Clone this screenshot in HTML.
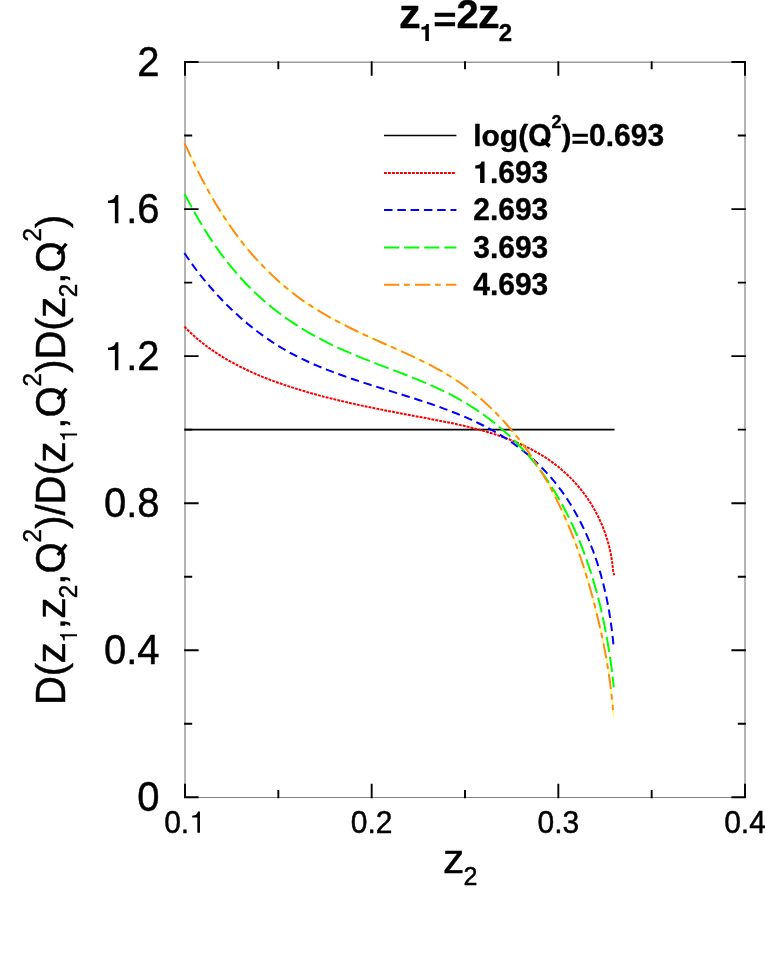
<!DOCTYPE html>
<html><head><meta charset="utf-8"><title>chart</title>
<style>html,body{margin:0;padding:0;background:#fff;}body{width:765px;height:980px;position:relative;overflow:hidden;font-family:"Liberation Sans",sans-serif;}</style></head>
<body>
<svg width="765" height="980" viewBox="0 0 765 980" style="position:absolute;left:0;top:0;font-kerning:none;will-change:transform">
<rect width="765" height="980" fill="#ffffff"/>
<path d="M185.0,62.25 V797.4 M745.0,62.25 V797.4 M184.25,62.25 H745.75" fill="none" stroke="#9c9c9c" stroke-width="1.5"/>
<path d="M184.25,797.4 H745.75" fill="none" stroke="#828282" stroke-width="1.05"/>
<path d="M185.00,61.15 v14.50 M185.00,798.20 v-14.50 M371.67,61.15 v14.50 M371.67,798.20 v-14.50 M558.33,61.15 v14.50 M558.33,798.20 v-14.50 M745.00,61.15 v14.50 M745.00,798.20 v-14.50 M278.33,61.15 v8.10 M278.33,798.20 v-8.10 M465.00,61.15 v8.10 M465.00,798.20 v-8.10 M651.67,61.15 v8.10 M651.67,798.20 v-8.10 M184.10,797.30 h14.50 M745.90,797.30 h-14.50 M184.10,650.25 h14.50 M745.90,650.25 h-14.50 M184.10,503.20 h14.50 M745.90,503.20 h-14.50 M184.10,356.15 h14.50 M745.90,356.15 h-14.50 M184.10,209.10 h14.50 M745.90,209.10 h-14.50 M184.10,62.05 h14.50 M745.90,62.05 h-14.50 M184.10,723.77 h8.10 M745.90,723.77 h-8.10 M184.10,576.72 h8.10 M745.90,576.72 h-8.10 M184.10,429.67 h8.10 M745.90,429.67 h-8.10 M184.10,282.62 h8.10 M745.90,282.62 h-8.10 M184.10,135.57 h8.10 M745.90,135.57 h-8.10" stroke="#000" stroke-width="1.9" fill="none"/>
<path d="M185.0,429.7 H614.5" stroke="#000" stroke-width="1.7" fill="none"/>
<path d="M184.4,326.6 L187.7,330.1 L191.3,333.5 L195.0,336.8 L198.7,340.0 L202.5,343.0 L206.3,346.0 L210.2,348.8 L214.2,351.6 L218.3,354.3 L222.4,356.8 L226.5,359.3 L230.7,361.7 L235.0,364.0 L239.3,366.3 L243.7,368.4 L248.0,370.5 L252.5,372.6 L256.9,374.5 L261.4,376.4 L266.0,378.2 L270.5,380.0 L275.1,381.7 L279.7,383.3 L284.3,384.9 L288.9,386.4 L293.6,387.9 L298.2,389.4 L302.9,390.8 L307.6,392.2 L312.2,393.5 L316.9,394.8 L321.6,396.1 L326.3,397.3 L331.0,398.5 L335.7,399.6 L340.5,400.8 L345.2,401.9 L349.9,403.0 L354.7,404.0 L359.4,405.1 L364.2,406.1 L368.9,407.1 L373.7,408.1 L378.5,409.0 L383.2,410.0 L388.0,410.9 L392.8,411.8 L397.6,412.8 L402.3,413.7 L407.1,414.6 L411.9,415.5 L416.7,416.4 L421.5,417.3 L426.3,418.1 L431.1,419.1 L435.8,420.0 L440.6,420.9 L445.4,421.9 L450.2,422.8 L455.0,423.8 L459.7,424.9 L464.5,426.0 L469.2,427.1 L473.9,428.3 L478.6,429.5 L483.3,430.8 L488.0,432.2 L492.7,433.6 L497.3,435.1 L502.0,436.7 L506.6,438.4 L511.1,440.1 L515.6,442.0 L520.1,443.9 L524.5,446.0 L528.9,448.1 L533.2,450.3 L537.5,452.7 L541.6,455.1 L545.7,457.7 L549.7,460.4 L553.6,463.2 L557.5,466.2 L561.2,469.2 L564.8,472.4 L568.3,475.7 L571.8,479.1 L575.1,482.7 L578.2,486.3 L581.3,490.0 L584.3,493.9 L587.1,497.8 L589.8,501.9 L592.4,506.0 L594.8,510.2 L597.1,514.5 L599.3,518.9 L601.3,523.3 L603.1,527.8 L604.9,532.4 L606.4,537.0 L607.8,541.7 L609.1,546.4 L610.2,551.2 L611.2,556.0 L612.0,560.9 L612.6,565.8 L613.1,570.7 L614.2,575.3" stroke="#ff0000" stroke-width="2" stroke-dasharray="2.9 1.1" fill="none"/>
<path d="M184.4,253.0 L187.6,257.7 L190.8,262.3 L194.1,266.9 L197.5,271.4 L201.0,275.9 L204.6,280.3 L208.2,284.7 L212.0,289.0 L215.8,293.3 L219.7,297.5 L223.6,301.7 L227.7,305.7 L231.8,309.7 L236.0,313.6 L240.3,317.5 L244.6,321.2 L249.0,324.9 L253.5,328.5 L258.0,332.0 L262.6,335.4 L267.3,338.7 L272.0,341.8 L276.8,344.9 L281.6,347.9 L286.5,350.7 L291.5,353.5 L296.5,356.1 L301.5,358.6 L306.6,361.0 L311.7,363.4 L316.9,365.6 L322.1,367.8 L327.4,369.9 L332.7,371.9 L338.0,373.9 L343.3,375.8 L348.7,377.7 L354.1,379.5 L359.5,381.3 L364.9,383.1 L370.3,384.8 L375.8,386.5 L381.3,388.2 L386.7,389.9 L392.2,391.6 L397.7,393.3 L403.1,395.0 L408.6,396.7 L414.1,398.4 L419.5,400.2 L425.0,402.0 L430.4,403.8 L435.8,405.7 L441.2,407.6 L446.6,409.6 L452.0,411.7 L457.3,413.8 L462.6,416.0 L467.8,418.2 L473.0,420.6 L478.1,423.0 L483.2,425.5 L488.3,428.1 L493.3,430.9 L498.2,433.7 L503.0,436.6 L507.8,439.7 L512.4,442.8 L517.0,446.1 L521.5,449.5 L525.9,453.1 L530.3,456.7 L534.5,460.5 L538.6,464.5 L542.6,468.5 L546.5,472.6 L550.3,476.8 L554.0,481.2 L557.5,485.6 L561.0,490.2 L564.3,494.8 L567.5,499.5 L570.5,504.3 L573.5,509.2 L576.3,514.2 L579.0,519.2 L581.6,524.3 L584.1,529.4 L586.5,534.6 L588.8,539.9 L590.9,545.2 L593.0,550.6 L594.9,556.0 L596.8,561.4 L598.5,566.9 L600.2,572.4 L601.7,577.9 L603.2,583.4 L604.5,589.0 L605.8,594.5 L607.0,600.1 L608.1,605.7 L609.1,611.3 L610.0,616.9 L610.8,622.5 L611.6,628.1 L612.3,633.6 L612.9,639.2 L613.5,645.0" stroke="#0000ff" stroke-width="2" stroke-dasharray="8.5 4.8" fill="none"/>
<path d="M184.4,194.1 L187.6,199.5 L190.6,205.2 L193.6,210.7 L196.7,216.3 L199.9,221.8 L203.2,227.3 L206.6,232.7 L210.1,238.1 L213.6,243.4 L217.3,248.6 L221.0,253.8 L224.9,258.9 L228.8,264.0 L232.9,268.9 L237.0,273.8 L241.2,278.5 L245.6,283.2 L250.0,287.7 L254.6,292.2 L259.2,296.5 L263.9,300.7 L268.8,304.8 L273.7,308.9 L278.7,312.7 L283.8,316.5 L289.0,320.2 L294.3,323.7 L299.6,327.2 L305.0,330.5 L310.5,333.7 L316.1,336.8 L321.7,339.7 L327.3,342.6 L333.1,345.4 L338.8,348.1 L344.6,350.7 L350.5,353.2 L356.4,355.7 L362.3,358.1 L368.2,360.4 L374.2,362.8 L380.1,365.1 L386.1,367.4 L392.1,369.7 L398.1,371.9 L404.1,374.2 L410.0,376.6 L415.9,378.9 L421.8,381.4 L427.7,383.8 L433.5,386.4 L439.3,389.1 L445.0,391.8 L450.7,394.7 L456.3,397.7 L461.8,400.8 L467.3,404.0 L472.7,407.4 L478.0,410.9 L483.2,414.5 L488.3,418.2 L493.4,422.1 L498.3,426.1 L503.1,430.2 L507.9,434.4 L512.5,438.7 L517.0,443.2 L521.4,447.7 L525.7,452.4 L529.9,457.2 L534.0,462.1 L537.9,467.1 L541.7,472.2 L545.4,477.4 L549.0,482.7 L552.4,488.1 L555.8,493.5 L559.0,499.0 L562.1,504.6 L565.1,510.2 L568.1,515.9 L570.9,521.7 L573.6,527.5 L576.2,533.3 L578.7,539.1 L581.1,545.0 L583.4,551.0 L585.6,557.0 L587.7,563.0 L589.7,569.0 L591.7,575.1 L593.5,581.2 L595.3,587.3 L597.0,593.4 L598.6,599.6 L600.2,605.8 L601.6,612.0 L603.0,618.2 L604.3,624.4 L605.5,630.7 L606.7,636.9 L607.8,643.2 L608.8,649.5 L609.8,655.8 L610.7,662.0 L611.6,668.3 L612.4,674.6 L613.1,680.9 L613.8,687.3" stroke="#00ff00" stroke-width="2" stroke-dasharray="15.2 4.9" fill="none"/>
<path d="M184.4,143.2 L187.5,149.4 L190.3,155.6 L193.3,161.8 L196.3,167.9 L199.4,174.1 L202.5,180.2 L205.8,186.2 L209.1,192.3 L212.5,198.2 L216.0,204.2 L219.6,210.1 L223.3,215.9 L227.1,221.6 L231.0,227.3 L235.0,232.9 L239.1,238.4 L243.3,243.9 L247.7,249.2 L252.2,254.5 L256.8,259.6 L261.5,264.7 L266.3,269.6 L271.2,274.4 L276.2,279.1 L281.3,283.7 L286.6,288.1 L291.9,292.4 L297.4,296.6 L302.9,300.6 L308.5,304.4 L314.3,308.1 L320.1,311.7 L326.0,315.1 L331.9,318.5 L338.0,321.7 L344.1,324.9 L350.2,328.0 L356.4,331.0 L362.6,333.9 L368.9,336.8 L375.2,339.7 L381.5,342.5 L387.9,345.3 L394.2,348.1 L400.6,350.9 L406.9,353.8 L413.2,356.7 L419.4,359.7 L425.6,362.7 L431.8,365.9 L437.8,369.1 L443.8,372.5 L449.7,376.0 L455.4,379.7 L461.1,383.5 L466.6,387.5 L472.0,391.6 L477.3,395.9 L482.5,400.3 L487.6,404.9 L492.5,409.6 L497.3,414.4 L502.1,419.4 L506.7,424.5 L511.1,429.7 L515.5,435.0 L519.8,440.3 L523.9,445.8 L528.0,451.4 L531.9,457.1 L535.7,462.9 L539.4,468.7 L543.0,474.6 L546.5,480.6 L549.9,486.6 L553.1,492.7 L556.3,498.9 L559.3,505.1 L562.3,511.3 L565.1,517.6 L567.8,523.9 L570.5,530.3 L573.0,536.6 L575.4,543.1 L577.8,549.5 L580.0,556.0 L582.2,562.5 L584.3,569.0 L586.3,575.6 L588.3,582.1 L590.2,588.7 L592.0,595.3 L593.8,602.0 L595.5,608.6 L597.1,615.3 L598.8,622.0 L600.3,628.7 L601.8,635.4 L603.2,642.2 L604.5,648.9 L605.8,655.7 L607.0,662.5 L608.1,669.2 L609.1,676.0 L610.1,682.9 L610.9,689.7 L611.7,696.5 L612.4,703.4 L613.0,710.2" stroke="#ffff30" stroke-width="1" stroke-dasharray="0.3 14.6 5.5 5.1 5.5 0" fill="none"/>
<path d="M613.0,710.2 L613.8,716.8" stroke="#ffff30" stroke-width="1" fill="none"/>
<path d="M184.4,143.2 L187.5,149.4 L190.3,155.6 L193.3,161.8 L196.3,167.9 L199.4,174.1 L202.5,180.2 L205.8,186.2 L209.1,192.3 L212.5,198.2 L216.0,204.2 L219.6,210.1 L223.3,215.9 L227.1,221.6 L231.0,227.3 L235.0,232.9 L239.1,238.4 L243.3,243.9 L247.7,249.2 L252.2,254.5 L256.8,259.6 L261.5,264.7 L266.3,269.6 L271.2,274.4 L276.2,279.1 L281.3,283.7 L286.6,288.1 L291.9,292.4 L297.4,296.6 L302.9,300.6 L308.5,304.4 L314.3,308.1 L320.1,311.7 L326.0,315.1 L331.9,318.5 L338.0,321.7 L344.1,324.9 L350.2,328.0 L356.4,331.0 L362.6,333.9 L368.9,336.8 L375.2,339.7 L381.5,342.5 L387.9,345.3 L394.2,348.1 L400.6,350.9 L406.9,353.8 L413.2,356.7 L419.4,359.7 L425.6,362.7 L431.8,365.9 L437.8,369.1 L443.8,372.5 L449.7,376.0 L455.4,379.7 L461.1,383.5 L466.6,387.5 L472.0,391.6 L477.3,395.9 L482.5,400.3 L487.6,404.9 L492.5,409.6 L497.3,414.4 L502.1,419.4 L506.7,424.5 L511.1,429.7 L515.5,435.0 L519.8,440.3 L523.9,445.8 L528.0,451.4 L531.9,457.1 L535.7,462.9 L539.4,468.7 L543.0,474.6 L546.5,480.6 L549.9,486.6 L553.1,492.7 L556.3,498.9 L559.3,505.1 L562.3,511.3 L565.1,517.6 L567.8,523.9 L570.5,530.3 L573.0,536.6 L575.4,543.1 L577.8,549.5 L580.0,556.0 L582.2,562.5 L584.3,569.0 L586.3,575.6 L588.3,582.1 L590.2,588.7 L592.0,595.3 L593.8,602.0 L595.5,608.6 L597.1,615.3 L598.8,622.0 L600.3,628.7 L601.8,635.4 L603.2,642.2 L604.5,648.9 L605.8,655.7 L607.0,662.5 L608.1,669.2 L609.1,676.0 L610.1,682.9 L610.9,689.7 L611.7,696.5 L612.4,703.4 L613.0,710.2" stroke="#ff8c0a" stroke-width="2" stroke-dasharray="15.2 4.9 5.7 5.2" fill="none"/>
<path d="M384.0,135.5 H456.4" stroke="#000" stroke-width="1.7"/>
<path d="M384.0,172.9 H455.4" stroke="#ff0000" stroke-width="2" stroke-dasharray="2.9 1.1"/>
<path d="M384.0,210.1 H456.4" stroke="#0000ff" stroke-width="2" stroke-dasharray="8.5 4.8"/>
<path d="M384.0,247.5 H456.4" stroke="#00ff00" stroke-width="2" stroke-dasharray="15.2 4.9"/>
<path d="M384.0,284.8 H456.4" stroke="#ff8c0a" stroke-width="2" stroke-dasharray="15.2 4.9 5.7 5.2"/>
<g font-family="Liberation Sans, sans-serif" font-weight="bold" fill="#000" stroke="#000" stroke-width="0.35" stroke-linejoin="round">
<text x="473.20" y="145.60" font-size="30">log(</text>
<text font-size="30" transform="translate(539.84,145.60) scale(1.0,1.04)" text-anchor="middle">O</text>
<path d="M.447,.205 L.715,-.022" fill="none" stroke-width="0.125" transform="translate(528.18,145.60) scale(30,-30)"/>
<text font-size="18" transform="translate(556.52,128.00) scale(1.0,1.035)" text-anchor="middle">2</text>
<text x="561.52" y="145.60" font-size="30">)</text>
<text font-size="30" transform="translate(580.27,148.15) scale(1.0,0.88)" text-anchor="middle">=</text>
<text font-size="30" transform="translate(597.37,145.60) scale(1.0,1.035)" text-anchor="middle">0</text>
<text x="605.72" y="145.60" font-size="30">.</text>
<text font-size="30" transform="translate(622.39,145.60) scale(1.0,1.035)" text-anchor="middle">6</text>
<text font-size="30" transform="translate(639.08,145.60) scale(1.0,1.035)" text-anchor="middle">9</text>
<text font-size="30" transform="translate(655.76,145.60) scale(1.0,1.035)" text-anchor="middle">3</text>
<path d="M.378,0 L.378,.710 L.274,.710 C.266,.665 .244,.632 .207,.612 C.170,.592 .124,.582 .069,.582 L.069,.482 L.230,.482 L.230,0 Z" stroke="none" transform="translate(473.20,182.90) scale(30,-30)"/>
<text x="489.88" y="182.90" font-size="30">.</text>
<text font-size="30" transform="translate(506.56,182.90) scale(1.0,1.035)" text-anchor="middle">6</text>
<text font-size="30" transform="translate(523.25,182.90) scale(1.0,1.035)" text-anchor="middle">9</text>
<text font-size="30" transform="translate(539.93,182.90) scale(1.0,1.035)" text-anchor="middle">3</text>
<text font-size="30" transform="translate(481.54,220.30) scale(1.0,1.035)" text-anchor="middle">2</text>
<text x="489.88" y="220.30" font-size="30">.</text>
<text font-size="30" transform="translate(506.56,220.30) scale(1.0,1.035)" text-anchor="middle">6</text>
<text font-size="30" transform="translate(523.25,220.30) scale(1.0,1.035)" text-anchor="middle">9</text>
<text font-size="30" transform="translate(539.93,220.30) scale(1.0,1.035)" text-anchor="middle">3</text>
<text font-size="30" transform="translate(481.54,257.70) scale(1.0,1.035)" text-anchor="middle">3</text>
<text x="489.88" y="257.70" font-size="30">.</text>
<text font-size="30" transform="translate(506.56,257.70) scale(1.0,1.035)" text-anchor="middle">6</text>
<text font-size="30" transform="translate(523.25,257.70) scale(1.0,1.035)" text-anchor="middle">9</text>
<text font-size="30" transform="translate(539.93,257.70) scale(1.0,1.035)" text-anchor="middle">3</text>
<text font-size="30" transform="translate(481.54,295.00) scale(1.0,1.035)" text-anchor="middle">4</text>
<text x="489.88" y="295.00" font-size="30">.</text>
<text font-size="30" transform="translate(506.56,295.00) scale(1.0,1.035)" text-anchor="middle">6</text>
<text font-size="30" transform="translate(523.25,295.00) scale(1.0,1.035)" text-anchor="middle">9</text>
<text font-size="30" transform="translate(539.93,295.00) scale(1.0,1.035)" text-anchor="middle">3</text>
</g>
<g font-family="Liberation Sans, sans-serif" font-weight="bold" fill="#000" stroke="#000" stroke-width="0.35" stroke-linejoin="round">
<text font-size="40" transform="translate(409.80,28.40) scale(1.085,1.0)" text-anchor="middle">z</text>
<path d="M.378,0 L.378,.710 L.274,.710 C.266,.665 .244,.632 .207,.612 C.170,.592 .124,.582 .069,.582 L.069,.482 L.230,.482 L.230,0 Z" stroke="none" transform="translate(419.80,41.00) scale(24,-24)"/>
<text font-size="40" transform="translate(444.83,31.80) scale(1.0,0.88)" text-anchor="middle">=</text>
<text font-size="40" transform="translate(467.63,28.40) scale(1.0,1.035)" text-anchor="middle">2</text>
<text font-size="40" transform="translate(488.75,28.40) scale(1.085,1.0)" text-anchor="middle">z</text>
<text font-size="24" transform="translate(505.43,41.00) scale(1.0,1.035)" text-anchor="middle">2</text>
</g>
<g font-family="Liberation Sans, sans-serif" fill="#000" stroke="#000" stroke-width="0.45" stroke-linejoin="round">
<text font-size="40" transform="translate(148.48,811.40) scale(1.0,1.04)" text-anchor="middle">0</text>
<text font-size="40" transform="translate(115.12,664.35) scale(1.0,1.04)" text-anchor="middle">0</text>
<text x="126.24" y="664.35" font-size="40">.</text>
<text font-size="40" transform="translate(148.48,664.35) scale(1.0,1.04)" text-anchor="middle">4</text>
<text font-size="40" transform="translate(115.12,517.30) scale(1.0,1.04)" text-anchor="middle">0</text>
<text x="126.24" y="517.30" font-size="40">.</text>
<text font-size="40" transform="translate(148.48,517.30) scale(1.0,1.04)" text-anchor="middle">8</text>
<path d="M.359,0 L.359,.703 L.294,.703 C.287,.665 .268,.632 .237,.608 C.205,.585 .160,.571 .101,.566 L.101,.505 L.272,.505 L.272,0 Z" stroke="none" transform="translate(103.99,370.25) scale(40,-40)"/>
<text x="126.24" y="370.25" font-size="40">.</text>
<text font-size="40" transform="translate(148.48,370.25) scale(1.0,1.04)" text-anchor="middle">2</text>
<path d="M.359,0 L.359,.703 L.294,.703 C.287,.665 .268,.632 .237,.608 C.205,.585 .160,.571 .101,.566 L.101,.505 L.272,.505 L.272,0 Z" stroke="none" transform="translate(103.99,223.20) scale(40,-40)"/>
<text x="126.24" y="223.20" font-size="40">.</text>
<text font-size="40" transform="translate(148.48,223.20) scale(1.0,1.04)" text-anchor="middle">6</text>
<text font-size="40" transform="translate(148.48,76.15) scale(1.0,1.04)" text-anchor="middle">2</text>
<text font-size="30" transform="translate(172.49,832.70) scale(1.0,1.04)" text-anchor="middle">0</text>
<text x="180.83" y="832.70" font-size="30">.</text>
<path d="M.359,0 L.359,.703 L.294,.703 C.287,.665 .268,.632 .237,.608 C.205,.585 .160,.571 .101,.566 L.101,.505 L.272,.505 L.272,0 Z" stroke="none" transform="translate(189.17,832.70) scale(30,-30)"/>
<text font-size="30" transform="translate(359.16,832.70) scale(1.0,1.04)" text-anchor="middle">0</text>
<text x="367.50" y="832.70" font-size="30">.</text>
<text font-size="30" transform="translate(384.18,832.70) scale(1.0,1.04)" text-anchor="middle">2</text>
<text font-size="30" transform="translate(545.82,832.70) scale(1.0,1.04)" text-anchor="middle">0</text>
<text x="554.17" y="832.70" font-size="30">.</text>
<text font-size="30" transform="translate(570.84,832.70) scale(1.0,1.04)" text-anchor="middle">3</text>
<text font-size="30" transform="translate(732.49,832.70) scale(1.0,1.04)" text-anchor="middle">0</text>
<text x="740.83" y="832.70" font-size="30">.</text>
<text font-size="30" transform="translate(757.51,832.70) scale(1.0,1.04)" text-anchor="middle">4</text>
<text font-size="40" transform="translate(453.60,872.90) scale(1.066,1.0)" text-anchor="middle">z</text>
<text font-size="25" transform="translate(470.55,884.90) scale(1.0,1.04)" text-anchor="middle">2</text>
<g transform="translate(65.1,705.1) rotate(-90)"><text font-size="40" transform="translate(14.44,0.00) scale(1.0,1.04)" text-anchor="middle">D</text>
<text x="28.89" y="0.00" font-size="40">(</text>
<text font-size="40" transform="translate(52.21,0.00) scale(1.066,1.0)" text-anchor="middle">z</text>
<path d="M.359,0 L.359,.703 L.294,.703 C.287,.665 .268,.632 .237,.608 C.205,.585 .160,.571 .101,.566 L.101,.505 L.272,.505 L.272,0 Z" stroke="none" transform="translate(62.21,12.00) scale(24.4,-24.4)"/>
<text x="75.78" y="0.00" font-size="40">,</text>
<text font-size="40" transform="translate(96.89,0.00) scale(1.066,1.0)" text-anchor="middle">z</text>
<text font-size="24.4" transform="translate(113.68,12.00) scale(1.0,1.04)" text-anchor="middle">2</text>
<text x="120.46" y="0.00" font-size="40">,</text>
<text font-size="40" transform="translate(147.13,0.00) scale(1.0,1.04)" text-anchor="middle">O</text>
<path d="M.462,.185 L.722,-.030" fill="none" stroke-width="0.082" transform="translate(131.57,0.00) scale(40,-40)"/>
<text font-size="24.4" transform="translate(169.47,-24.00) scale(1.0,1.04)" text-anchor="middle">2</text>
<text x="176.26" y="0.00" font-size="40">)/</text>
<text font-size="40" transform="translate(215.14,0.00) scale(1.0,1.04)" text-anchor="middle">D</text>
<text x="229.58" y="0.00" font-size="40">(</text>
<text font-size="40" transform="translate(252.90,0.00) scale(1.066,1.0)" text-anchor="middle">z</text>
<path d="M.359,0 L.359,.703 L.294,.703 C.287,.665 .268,.632 .237,.608 C.205,.585 .160,.571 .101,.566 L.101,.505 L.272,.505 L.272,0 Z" stroke="none" transform="translate(262.90,12.00) scale(24.4,-24.4)"/>
<text x="276.47" y="0.00" font-size="40">,</text>
<text font-size="40" transform="translate(303.14,0.00) scale(1.0,1.04)" text-anchor="middle">O</text>
<path d="M.462,.185 L.722,-.030" fill="none" stroke-width="0.082" transform="translate(287.58,0.00) scale(40,-40)"/>
<text font-size="24.4" transform="translate(325.48,-24.00) scale(1.0,1.04)" text-anchor="middle">2</text>
<text x="332.27" y="0.00" font-size="40">)</text>
<text font-size="40" transform="translate(360.03,0.00) scale(1.0,1.04)" text-anchor="middle">D</text>
<text x="374.47" y="0.00" font-size="40">(</text>
<text font-size="40" transform="translate(397.79,0.00) scale(1.066,1.0)" text-anchor="middle">z</text>
<text font-size="24.4" transform="translate(414.58,12.00) scale(1.0,1.04)" text-anchor="middle">2</text>
<text x="421.36" y="0.00" font-size="40">,</text>
<text font-size="40" transform="translate(448.03,0.00) scale(1.0,1.04)" text-anchor="middle">O</text>
<path d="M.462,.185 L.722,-.030" fill="none" stroke-width="0.082" transform="translate(432.48,0.00) scale(40,-40)"/>
<text font-size="24.4" transform="translate(470.38,-24.00) scale(1.0,1.04)" text-anchor="middle">2</text>
<text x="477.16" y="0.00" font-size="40">)</text></g>
</g>
</svg>
</body></html>
